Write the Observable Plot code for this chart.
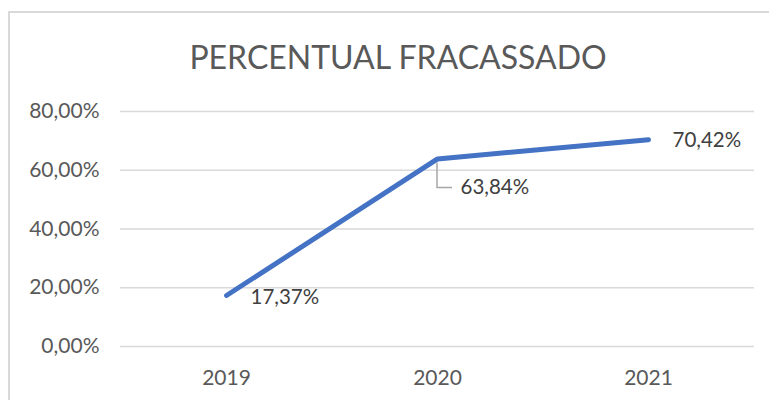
<!DOCTYPE html>
<html>
<head>
<meta charset="utf-8">
<script src="https://cdn.jsdelivr.net/npm/d3@7"></script>
<script src="https://cdn.jsdelivr.net/npm/@observablehq/plot@0.6"></script>
<style>
  html, body { margin: 0; padding: 0; background: #fff; }
  #wrap { position: relative; width: 769px; height: 400px; overflow: hidden; font-family: Lato, "Open Sans", sans-serif; }
  #frame { position: absolute; left: 8px; top: 11px; width: 800px; height: 420px; border: 2px solid #d9d9d9; box-sizing: border-box; }
  #title { position: absolute; left: 0; top: 0; width: 769px; height: 90px; }
  #title div { position: absolute; left: 9px; width: 778px; top: 36px; text-align: center; font-size: 32px; color: #595959; line-height: 42px; }
  #chart { position: absolute; left: 0; top: 90px; }
</style>
</head>
<body>
<div id="wrap">
  <div id="frame"></div>
  <div id="title"><div>PERCENTUAL FRACASSADO</div></div>
  <div id="chart"></div>
</div>
<script>
const years = ["2019", "2020", "2021"];
const values = [17.37, 63.84, 70.42];
const yTicks = [0, 20, 40, 60, 80];
const labels = ["17,37%", "63,84%", "70,42%"];

const data = years.map((y, i) => ({year: y, value: values[i], label: labels[i]}));
const fmt = v => v.toFixed(2).replace(".", ",") + "%";

const leader = (index, scales) => {
  const ns = "http://www.w3.org/2000/svg";
  const g = document.createElementNS(ns, "g");
  const d = data[1];
  const x = scales.x(d.year), y = scales.y(d.value);
  const p = document.createElementNS(ns, "path");
  p.setAttribute("d", `M${x},${y + 4}V${y + 29}H${x + 15}`);
  p.setAttribute("fill", "none");
  p.setAttribute("stroke", "#a6a6a6");
  p.setAttribute("stroke-width", "1.5");
  g.appendChild(p);
  return g;
};

const chart = Plot.plot({
  width: 769,
  height: 310,
  marginLeft: 120,
  marginRight: 15,
  marginTop: 21,
  marginBottom: 54,
  style: {fontFamily: "Lato, 'Open Sans', sans-serif", fontSize: "21px", color: "#595959", background: "transparent"},
  x: {type: "point", domain: years, padding: 0.5, label: null, tickSize: 0, tickPadding: 24},
  y: {domain: [0, 80], ticks: yTicks, tickFormat: fmt, label: null, tickSize: 0, tickPadding: 21},
  marks: [
    Plot.ruleY(yTicks, {stroke: "#d9d9d9", strokeWidth: 1.5, strokeOpacity: 1}),
    leader,
    Plot.line(data, {x: "year", y: "value", stroke: "#4472C4", strokeWidth: 5, strokeLinecap: "round", strokeLinejoin: "round"}),
    Plot.text([data[0]], {x: "year", y: "value", text: "label", textAnchor: "start", dx: 24, dy: 2, fill: "#404040", fontSize: 20.5}),
    Plot.text([data[1]], {x: "year", y: "value", text: "label", textAnchor: "start", dx: 23, dy: 28, fill: "#404040", fontSize: 20.5}),
    Plot.text([data[2]], {x: "year", y: "value", text: "label", textAnchor: "start", dx: 24, dy: 1, fill: "#404040", fontSize: 20.5})
  ]
});
document.getElementById("chart").appendChild(chart);
</script>
</body>
</html>
